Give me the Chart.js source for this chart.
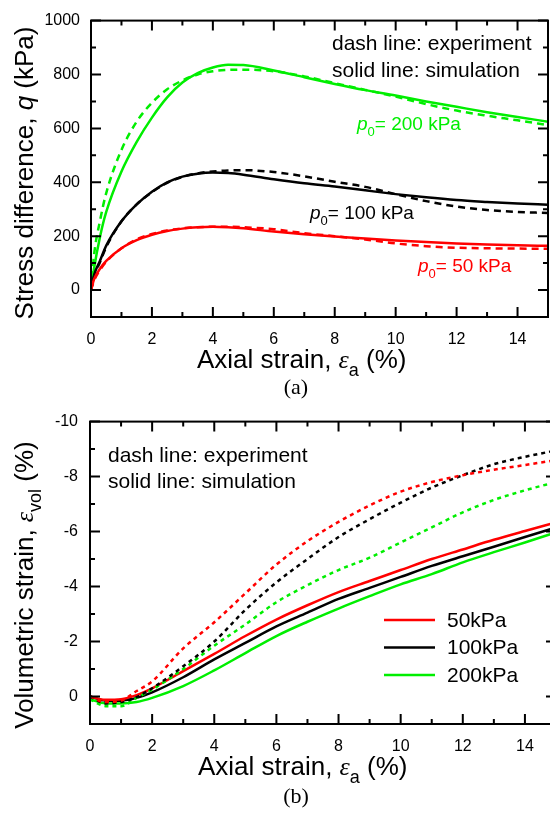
<!DOCTYPE html>
<html lang="en">
<head>
  <meta charset="UTF-8" />
  <title>Stress difference and volumetric strain vs axial strain</title>
  <script src="https://cdn.jsdelivr.net/npm/chart.js"></script>
  <style>
    body { margin: 0; background: #fff; overflow: hidden; width: 550px; height: 814px; position: relative; }
    canvas { position: absolute; left: 0; }
    #chartA { top: 0; }
    #chartB { top: 400px; }
    .caption {
      position: absolute; left: 246px; width: 100px; text-align: center;
      font-family: "Liberation Serif", "Times New Roman", serif; font-size: 22px; color: #000;
    }
  </style>
</head>
<body>
  <canvas id="chartA" width="550" height="400"></canvas>
  <canvas id="chartB" width="560" height="414"></canvas>
  <div class="caption" style="top:374px">(a)</div>
  <div class="caption" style="top:783px">(b)</div>

  <script>
    // ---- (a) stress difference q (kPa) vs axial strain (%) ----
    const strainA = [0, 0.1, 0.3, 0.5, 1, 1.5, 2, 2.5, 3, 3.5, 4, 4.5, 5, 6, 7, 8, 9, 10, 11, 12, 13, 14, 15];
    const qExp50  = [0, 35, 75, 105, 155, 188, 208, 221, 229, 233, 235, 235, 233, 226, 211, 200, 188, 173, 163, 157, 155, 154, 153];
    const qSim50  = [0, 40, 80, 108, 155, 185, 205, 219, 228, 233, 235, 233, 229, 217, 207, 199, 191, 184, 178, 173, 169, 166, 164];
    const qExp100 = [0, 50, 105, 160, 255, 318, 363, 398, 420, 433, 440, 444, 445, 438, 422, 402, 383, 356, 330, 310, 297, 290, 286];
    const qSim100 = [0, 55, 110, 165, 255, 318, 365, 400, 421, 432, 436, 434, 428, 411, 396, 384, 370, 356, 344, 334, 327, 321, 317];
    const qExp200 = [0, 130, 260, 360, 520, 625, 695, 745, 778, 800, 812, 817, 818, 812, 793, 768, 743, 718, 690, 666, 647, 630, 612];
    const qSim200 = [0, 80, 200, 290, 440, 550, 640, 715, 770, 805, 826, 836, 835, 815, 790, 765, 742, 722, 700, 680, 660, 642, 625];

    // ---- (b) volumetric strain (%) vs axial strain (%) ----
    const strainB = [0, 0.5, 1, 1.5, 2, 3, 4, 5, 6, 7, 8, 9, 10, 11, 12, 13, 14, 15];
    const vExp50  = [0, 0.2, 0.15, -0.2, -0.55, -1.75, -2.7, -3.75, -4.8, -5.65, -6.35, -6.95, -7.45, -7.8, -8.05, -8.25, -8.42, -8.6];
    const vSim50  = [0, 0.12, 0.1, -0.05, -0.3, -0.92, -1.55, -2.2, -2.8, -3.32, -3.8, -4.2, -4.6, -5.0, -5.35, -5.7, -6.02, -6.33];
    const vExp100 = [0, 0.25, 0.2, 0.02, -0.3, -1.1, -2.0, -3.15, -4.15, -5.0, -5.8, -6.45, -7.05, -7.6, -8.05, -8.45, -8.72, -8.95];
    const vSim100 = [0, 0.15, 0.15, 0.05, -0.15, -0.7, -1.35, -1.95, -2.55, -3.05, -3.55, -3.95, -4.35, -4.75, -5.1, -5.45, -5.8, -6.15];
    const vExp200 = [0.1, 0.35, 0.35, 0.05, -0.25, -1.0, -1.85, -2.62, -3.43, -4.05, -4.6, -5.05, -5.6, -6.15, -6.7, -7.15, -7.5, -7.8];
    const vSim200 = [0.1, 0.25, 0.25, 0.2, 0.05, -0.38, -0.95, -1.58, -2.2, -2.72, -3.2, -3.65, -4.08, -4.45, -4.88, -5.25, -5.6, -5.97];

    // tick labels and names
    const ticksStrain = [0, 2, 4, 6, 8, 10, 12, 14];
    const ticksQ = [0, 200, 400, 600, 800, 1000];
    const ticksVol = [-10, -8, -6, -4, -2, 0];
    const pressureNames = ['50kPa', '100kPa', '200kPa'];

    const RED = '#ff0000', BLACK = '#000000', GREEN = '#00ee00';
    const SANS = '"Liberation Sans", Arial, sans-serif';
    const SERIF = '"Liberation Serif", "Times New Roman", serif';

    // text with italic / subscript pieces
    function partFont(p, size) {
      const s = p.sub ? Math.round(size * 0.68) : size;
      return (p.it ? 'italic ' : '') + s + 'px ' + (p.serif ? SERIF : SANS);
    }
    function richWidth(ctx, parts, size) {
      let w = 0;
      parts.forEach(p => { ctx.font = partFont(p, size); w += ctx.measureText(p.t).width; });
      return w;
    }
    function drawRich(ctx, parts, x, y, size, color, align) {
      ctx.save();
      ctx.fillStyle = color;
      ctx.textAlign = 'left';
      ctx.textBaseline = 'alphabetic';
      let cx = align === 'center' ? x - richWidth(ctx, parts, size) / 2 : x;
      parts.forEach(p => {
        ctx.font = partFont(p, size);
        ctx.fillText(p.t, cx, y + (p.sub ? size * 0.3 : 0));
        cx += ctx.measureText(p.t).width;
      });
      ctx.restore();
    }
    function drawRotated(ctx, parts, x, y, size) {
      ctx.save();
      ctx.translate(x, y);
      ctx.rotate(-Math.PI / 2);
      drawRich(ctx, parts, 0, 0, size, '#000', 'center');
      ctx.restore();
    }

    // frame with inward ticks on all four sides, then extra text
    function makeDecor(cfg) {
      return {
        id: 'decor',
        afterDatasetsDraw(chart) {
          const { ctx, chartArea: a, scales: { x, y } } = chart;
          ctx.save();
          ctx.strokeStyle = '#000';
          ctx.lineWidth = 2;
          ctx.beginPath();
          for (let v = x.min; v <= x.max + 1e-6; v += cfg.xMinor) {
            const len = Math.abs(v % cfg.xMajor) < 1e-6 ? 10 : 5;
            const px = x.getPixelForValue(v);
            ctx.moveTo(px, a.bottom); ctx.lineTo(px, a.bottom - len);
            ctx.moveTo(px, a.top); ctx.lineTo(px, a.top + len);
          }
          for (let v = y.min; v <= y.max + 1e-6; v += cfg.yMinor) {
            const len = Math.abs(v % cfg.yMajor) < 1e-6 ? 10 : 5;
            const py = y.getPixelForValue(v);
            ctx.moveTo(a.left, py); ctx.lineTo(a.left + len, py);
            ctx.moveTo(a.right, py); ctx.lineTo(a.right - len, py);
          }
          ctx.stroke();
          ctx.strokeRect(a.left, a.top, a.right - a.left, a.bottom - a.top);
          ctx.restore();
          cfg.draw(ctx, chart);
        }
      };
    }

    function series(label, xs, ys, color, dash, width) {
      return {
        label,
        data: xs.map((v, i) => ({ x: v, y: ys[i] })),
        borderColor: color,
        backgroundColor: color,
        borderWidth: width,
        borderDash: dash,
        pointRadius: 0,
        fill: false,
        cubicInterpolationMode: 'monotone'
      };
    }

    function xScale(height, pad) {
      return {
        type: 'linear', min: 0, max: 15,
        grid: { display: false, drawTicks: false },
        border: { display: false },
        ticks: {
          stepSize: 2, includeBounds: false, padding: pad, autoSkip: false, maxRotation: 0,
          color: '#000', font: { family: SANS, size: 16 },
          callback: v => ticksStrain.includes(v) ? String(v) : ''
        },
        afterFit: s => { s.height = height; }
      };
    }

    Chart.defaults.color = '#000';

    // ---------- chart (a) ----------
    new Chart(document.getElementById('chartA'), {
      type: 'line',
      data: {
        datasets: [
          series('50 kPa exp', strainA, qExp50, RED, [7, 5], 2.5),
          series('50 kPa sim', strainA, qSim50, RED, [], 2.5),
          series('100 kPa exp', strainA, qExp100, BLACK, [7, 5], 2.5),
          series('100 kPa sim', strainA, qSim100, BLACK, [], 2.5),
          series('200 kPa exp', strainA, qExp200, GREEN, [7, 5], 2.5),
          series('200 kPa sim', strainA, qSim200, GREEN, [], 2.5)
        ]
      },
      options: {
        responsive: false, animation: false, devicePixelRatio: 1,
        layout: { padding: { top: 15, right: 2, left: 0, bottom: 0 } },
        plugins: { legend: { display: false }, tooltip: { enabled: false } },
        scales: {
          x: xScale(83, 13),
          y: {
            type: 'linear', min: -100, max: 1000,
            grid: { display: false, drawTicks: false },
            border: { display: false },
            ticks: {
              stepSize: 200, includeBounds: false, padding: 11,
              color: '#000', font: { family: SANS, size: 16 },
              callback: v => ticksQ.includes(v) ? String(v) : ''
            },
            afterFit: s => { s.width = 91; }
          }
        }
      },
      plugins: [makeDecor({
        xMajor: 2, xMinor: 1, yMajor: 200, yMinor: 100,
        draw(ctx) {
          drawRich(ctx, [{ t: 'Axial strain, ' }, { t: 'ε', it: true, serif: true }, { t: 'a', sub: true }, { t: ' (%)' }], 197, 368, 26, '#000');
          drawRotated(ctx, [{ t: 'Stress difference, ' }, { t: 'q', it: true }, { t: ' (kPa)' }], 33, 173, 26);
          drawRich(ctx, [{ t: 'dash line: experiment' }], 332, 50, 21, '#000');
          drawRich(ctx, [{ t: 'solid line: simulation' }], 332, 77, 21, '#000');
          drawRich(ctx, [{ t: 'p', it: true }, { t: '0', sub: true }, { t: '= 200 kPa' }], 357, 130, 19, GREEN);
          drawRich(ctx, [{ t: 'p', it: true }, { t: '0', sub: true }, { t: '= 100 kPa' }], 310, 219, 19, BLACK);
          drawRich(ctx, [{ t: 'p', it: true }, { t: '0', sub: true }, { t: '= 50 kPa' }], 418, 272, 19, RED);
        }
      })]
    });

    // ---------- chart (b) ----------
    new Chart(document.getElementById('chartB'), {
      type: 'line',
      data: {
        datasets: [
          series('50kPa exp', strainB, vExp50, RED, [4, 4], 2.5),
          series('100kPa exp', strainB, vExp100, BLACK, [4, 4], 2.5),
          series('200kPa exp', strainB, vExp200, GREEN, [4, 4], 2.5),
          series(pressureNames[0], strainB, vSim50, RED, [], 2.5),
          series(pressureNames[1], strainB, vSim100, BLACK, [], 2.5),
          series(pressureNames[2], strainB, vSim200, GREEN, [], 2.5)
        ]
      },
      options: {
        responsive: false, animation: false, devicePixelRatio: 1,
        layout: { padding: { top: 17, right: 4, left: 0, bottom: 0 } },
        plugins: { legend: { display: false }, tooltip: { enabled: false } },
        scales: {
          x: xScale(90, 13),
          y: {
            type: 'linear', min: -10, max: 1, reverse: true,
            grid: { display: false, drawTicks: false },
            border: { display: false },
            ticks: {
              stepSize: 2, includeBounds: false, padding: 12,
              color: '#000', font: { family: SANS, size: 16 },
              callback: v => ticksVol.includes(v) ? String(v) : ''
            },
            afterFit: s => { s.width = 90; }
          }
        }
      },
      plugins: [makeDecor({
        xMajor: 2, xMinor: 1, yMajor: 2, yMinor: 1,
        draw(ctx, chart) {
          drawRich(ctx, [{ t: 'Axial strain, ' }, { t: 'ε', it: true, serif: true }, { t: 'a', sub: true }, { t: ' (%)' }], 198, 375, 26, '#000');
          drawRotated(ctx, [{ t: 'Volumetric strain, ' }, { t: 'ε', it: true, serif: true }, { t: 'vol', sub: true }, { t: ' (%)' }], 33, 185, 26);
          drawRich(ctx, [{ t: 'dash line: experiment' }], 108, 62, 21, '#000');
          drawRich(ctx, [{ t: 'solid line: simulation' }], 108, 88, 21, '#000');
          // legend for the simulation lines
          const sims = chart.data.datasets.slice(3);
          ctx.save();
          sims.forEach((d, i) => {
            const ly = 220 + i * 27.5;
            ctx.strokeStyle = d.borderColor;
            ctx.lineWidth = 2.5;
            ctx.beginPath(); ctx.moveTo(384, ly); ctx.lineTo(435, ly); ctx.stroke();
            ctx.fillStyle = '#000';
            ctx.font = '21px ' + SANS;
            ctx.textBaseline = 'middle';
            ctx.fillText(d.label, 447, ly + 1);
          });
          ctx.restore();
        }
      })]
    });
  </script>
</body>
</html>
